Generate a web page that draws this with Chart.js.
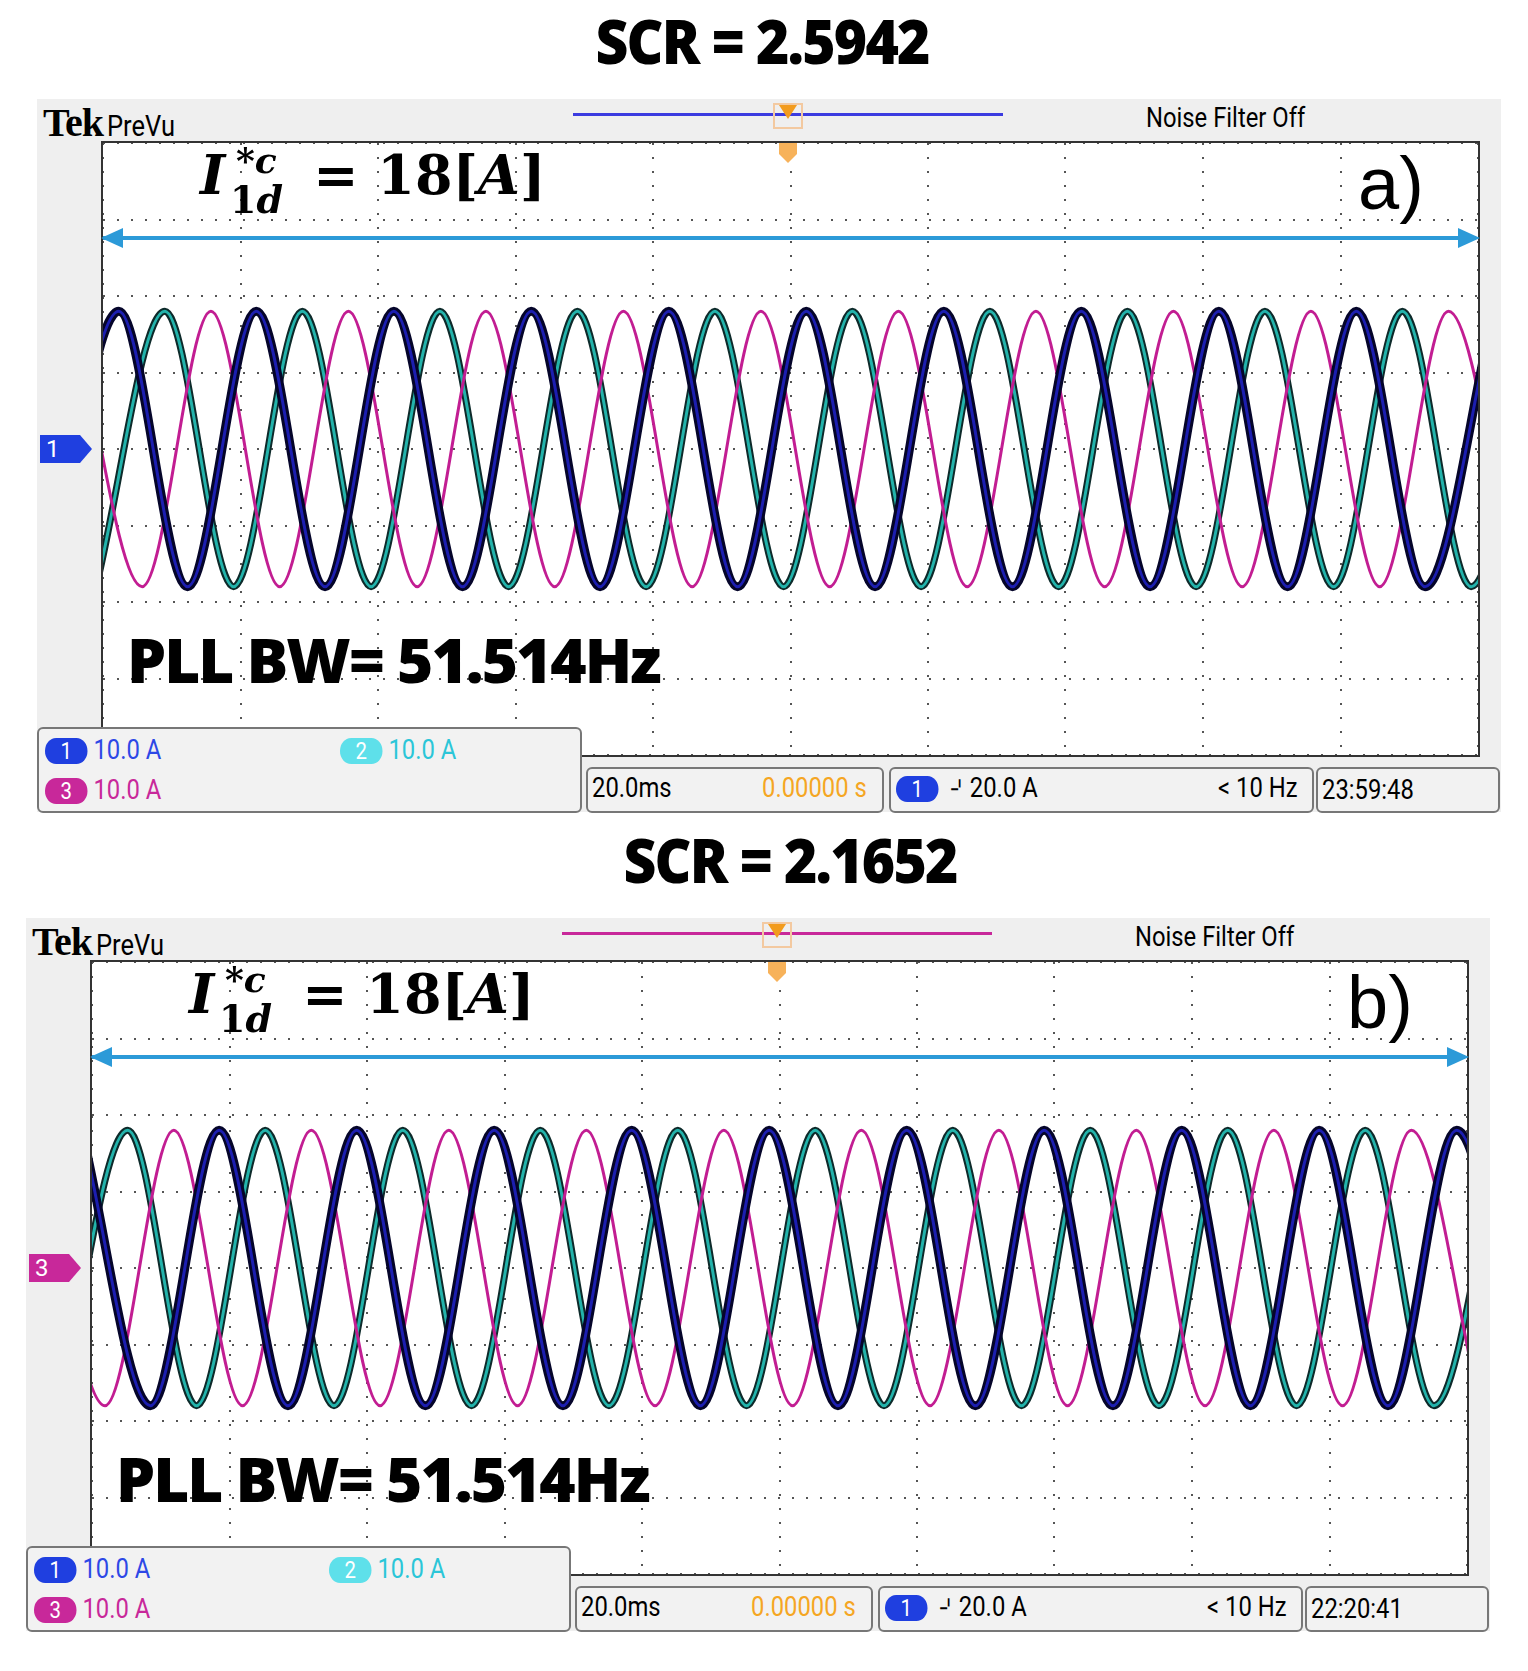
<!DOCTYPE html>
<html>
<head>
<meta charset="utf-8">
<script src="https://cdn.jsdelivr.net/npm/chart.js@4.4.1/dist/chart.umd.min.js"></script>
<style>
body { margin:0; background:#fff; width:1528px; height:1671px; position:relative; overflow:hidden; font-family:"Liberation Sans Narrow","Roboto",sans-serif; }
.abs { position:absolute; }
.title { font-family:"Open Sans","Noto Sans",sans-serif; font-weight:800; font-size:62px; transform:translateX(-50%) scaleX(0.92); letter-spacing:-2px; white-space:nowrap; }
.frame { background:#efefef; }
.plot { border:2px solid #333; background:#fff; box-sizing:border-box; }
.box { border:2px solid #777; border-radius:6px; background:#f2f2f2; box-sizing:border-box; }
.small { font-size:28px; transform:scaleX(0.85); transform-origin:left center; white-space:nowrap; }
.chip { display:inline-block; width:50px; height:26px; border-radius:13px; color:#fff; text-align:center; line-height:26px; font-size:24px; }
.big { font-family:"Open Sans","Noto Sans",sans-serif; font-weight:800; font-size:62px; white-space:nowrap; letter-spacing:-2px; }
.math { font-family:"DejaVu Serif","Liberation Serif",serif; font-weight:700; font-size:54px; white-space:nowrap; }
</style>
</head>
<body>
<script>
// time axis: 10 div x 20 ms, current axis: 8 div x 10 A
var timeTicks = [0, 20, 40, 60, 80, 100, 120, 140, 160, 180, 200];
var ampTicks = [-40, -30, -20, -10, 0, 10, 20, 30, 40];

// extremum levels of the traces [A]
var levelsPeakFirst = [18,-18,18,-18,18,-18,18,-18,18,-18,18,-18,18,-18,18,-18,18,-18,18,-18,18,-18];
var levelsTroughFirst = [-18,18,-18,18,-18,18,-18,18,-18,18,-18,18,-18,18,-18,18,-18,18,-18,18,-18,18];

// panel a) extremum times [ms], SCR = 2.5942
var ch1TimesA = [-7.7,2.3,12.3,22.3,32.3,42.3,52.3,62.3,72.3,82.3,92.3,102.3,112.3,122.3,132.3,142.3,152.3,162.3,172.3,182.3,192.3,202.3];
var ch2TimesA = [-1.0,9.0,19.0,29.0,39.0,49.0,59.0,69.0,79.0,89.0,99.0,109.0,119.0,129.0,139.0,149.0,159.0,169.0,179.0,189.0,199.0,209.0];
var ch3TimesA = [-4.3,5.7,15.7,25.7,35.7,45.7,55.7,65.7,75.7,85.7,95.7,105.7,115.7,125.7,135.7,145.7,155.7,165.7,175.7,185.7,195.7,205.7];

// panel b) extremum times [ms], SCR = 2.1652
var ch1TimesB = [-1.5,8.5,18.5,28.5,38.5,48.5,58.5,68.5,78.5,88.5,98.5,108.5,118.5,128.5,138.5,148.5,158.5,168.5,178.5,188.5,198.5,208.5];
var ch2TimesB = [-4.8,5.2,15.2,25.2,35.2,45.2,55.2,65.2,75.2,85.2,95.2,105.2,115.2,125.2,135.2,145.2,155.2,165.2,175.2,185.2,195.2,205.2];
var ch3TimesB = [-8.1,1.9,11.9,21.9,31.9,41.9,51.9,61.9,71.9,81.9,91.9,101.9,111.9,121.9,131.9,141.9,151.9,161.9,171.9,181.9,191.9,201.9];

function pts(times, levels) {
  return times.map(function(t, i) { return { x: t, y: levels[i] }; });
}

function el(cls, x, y, html, style) {
  var d = document.createElement('div');
  d.className = 'abs ' + (cls || '');
  d.style.left = x + 'px';
  d.style.top = y + 'px';
  if (style) d.style.cssText += style;
  d.innerHTML = html || '';
  document.body.appendChild(d);
  return d;
}

function panel(dx, dy, opt) {
  el('title', opt.titleX, dy - 143, opt.title);
  el('frame', 37 + dx, dy - 42, '', 'width:1464px;height:713px;');
  el('', 43 + dx, dy - 42, '<span style="font-family:Liberation Serif,serif;font-weight:700;font-size:40px;letter-spacing:-1px">Tek</span> <span class="small" style="display:inline-block;font-size:30px">PreVu</span>', 'white-space:nowrap;');
  el('', 573 + dx, dy - 28, '', 'width:430px;height:3px;background:' + opt.lineColor + ';');
  el('small', 1146 + dx, dy - 40, 'Noise Filter Off');

  var plot = el('plot', 101 + dx, dy, '', 'width:1379px;height:616px;');
  var cv = document.createElement('canvas');
  cv.width = 1375; cv.height = 612;
  plot.appendChild(cv);

  // trigger markers
  el('', 773 + dx, dy - 38, '', 'width:30px;height:26px;border:2px solid #f3c9a0;box-sizing:border-box;');
  el('', 779 + dx, dy - 36, '', 'width:0;height:0;border-left:9px solid transparent;border-right:9px solid transparent;border-top:14px solid #f29b1d;');
  el('', 779 + dx, dy + 2, '', 'width:18px;height:20px;background:#f7b25a;clip-path:polygon(0 0,100% 0,100% 55%,50% 100%,0 55%);');

  // channel marker
  el('', 40 + dx, dy + opt.markerY, '<div style="width:40px;height:28px;background:' + opt.markerColor + ';color:#fff;font-size:24px;line-height:28px;padding-left:6px;box-sizing:border-box">' + opt.markerText + '</div>', 'display:flex;');
  el('', 80 + dx, dy + opt.markerY, '', 'width:0;height:0;border-top:14px solid transparent;border-bottom:14px solid transparent;border-left:12px solid ' + opt.markerColor + ';');

  // annotations
  el('math', 200 + dx, dy + 2, '<span style="position:relative"><i>I</i><span style="position:absolute;left:36px;top:-4px;font-size:36px"><i>*c</i></span><span style="position:absolute;left:30px;top:34px;font-size:38px">1<i>d</i></span></span><span style="margin-left:88px">= 18[<i>A</i>]</span>');
  el('', 1358 + dx, dy + 0, opt.label, 'font-family:Liberation Sans,sans-serif;font-size:74px;');
  el('', 103 + dx, dy + 95, '', 'width:1373px;height:4px;background:#2c9ad8;');
  el('', 101 + dx, dy + 87, '', 'width:0;height:0;border-top:10px solid transparent;border-bottom:10px solid transparent;border-right:22px solid #2c9ad8;');
  el('', 1458 + dx, dy + 87, '', 'width:0;height:0;border-top:10px solid transparent;border-bottom:10px solid transparent;border-left:22px solid #2c9ad8;');
  el('big', 127 + dx, dy + 476, 'PLL BW= 51.514Hz');

  // info boxes
  el('box', 37 + dx, dy + 586, '', 'width:545px;height:86px;');
  el('small', 45 + dx, dy + 592, '<span class="chip" style="background:#1f3fe0">1</span> <span style="color:#2d48e6">10.0 A</span>');
  el('small', 340 + dx, dy + 592, '<span class="chip" style="background:#5ee0ea">2</span> <span style="color:#2bc6d8">10.0 A</span>');
  el('small', 45 + dx, dy + 632, '<span class="chip" style="background:#c8289a">3</span> <span style="color:#c8289a">10.0 A</span>');
  el('box', 586 + dx, dy + 626, '', 'width:298px;height:46px;');
  el('small', 592 + dx, dy + 630, '20.0ms');
  el('small', 762 + dx, dy + 630, '<span style="color:#f5a623">0.00000 s</span>');
  el('box', 889 + dx, dy + 626, '', 'width:425px;height:46px;');
  el('small', 896 + dx, dy + 630, '<span class="chip" style="background:#1f3fe0">1</span> &nbsp;&#8975;20.0 A');
  el('small', 1218 + dx, dy + 630, '&lt; 10 Hz');
  el('box', 1316 + dx, dy + 626, '', 'width:184px;height:46px;');
  el('small', 1322 + dx, dy + 632, opt.time);

  new Chart(cv.getContext('2d'), {
    type: 'line',
    data: {
      datasets: [
        { data: pts(opt.ch3, opt.l3), borderColor: '#c21d92', borderWidth: 3, order: 3 },
        { data: pts(opt.ch2, opt.l2), borderColor: '#0d2a2a', borderWidth: 7, order: 5 },
        { data: pts(opt.ch2, opt.l2), borderColor: '#23b3ab', borderWidth: 3, order: 4 },
        { data: pts(opt.ch1, opt.l1), borderColor: '#05052a', borderWidth: 9, order: 2 },
        { data: pts(opt.ch1, opt.l1), borderColor: '#1c1eb0', borderWidth: 3, order: 1 }
      ]
    },
    options: {
      responsive: false,
      animation: false,
      events: [],
      layout: { padding: 0 },
      elements: { point: { radius: 0 }, line: { cubicInterpolationMode: 'monotone', fill: false } },
      plugins: { legend: { display: false }, tooltip: { enabled: false } },
      scales: {
        x: {
          type: 'linear', min: 0, max: 200,
          afterBuildTicks: function(s) { s.ticks = timeTicks.map(function(v) { return { value: v }; }); },
          ticks: { display: false },
          grid: { color: '#555', lineWidth: 2, drawTicks: false },
          border: { display: false, dash: [2, 12] }
        },
        y: {
          type: 'linear', min: -40, max: 40,
          afterBuildTicks: function(s) { s.ticks = ampTicks.map(function(v) { return { value: v }; }); },
          ticks: { display: false },
          grid: { color: '#555', lineWidth: 2, drawTicks: false },
          border: { display: false, dash: [2, 12] }
        }
      }
    }
  });
}

panel(0, 141, {
  title: 'SCR = 2.5942', titleX: 762, lineColor: '#3b3be0', label: 'a)',
  markerText: '1', markerColor: '#1f3fe0', markerY: 294, time: '23:59:48',
  ch1: ch1TimesA, l1: levelsTroughFirst,
  ch2: ch2TimesA, l2: levelsTroughFirst,
  ch3: ch3TimesA, l3: levelsPeakFirst
});
panel(-11, 960, {
  title: 'SCR = 2.1652', titleX: 790, lineColor: '#c8289a', label: 'b)',
  markerText: '3', markerColor: '#c8289a', markerY: 294, time: '22:20:41',
  ch1: ch1TimesB, l1: levelsPeakFirst,
  ch2: ch2TimesB, l2: levelsTroughFirst,
  ch3: ch3TimesB, l3: levelsPeakFirst
});
</script>
</body>
</html>
